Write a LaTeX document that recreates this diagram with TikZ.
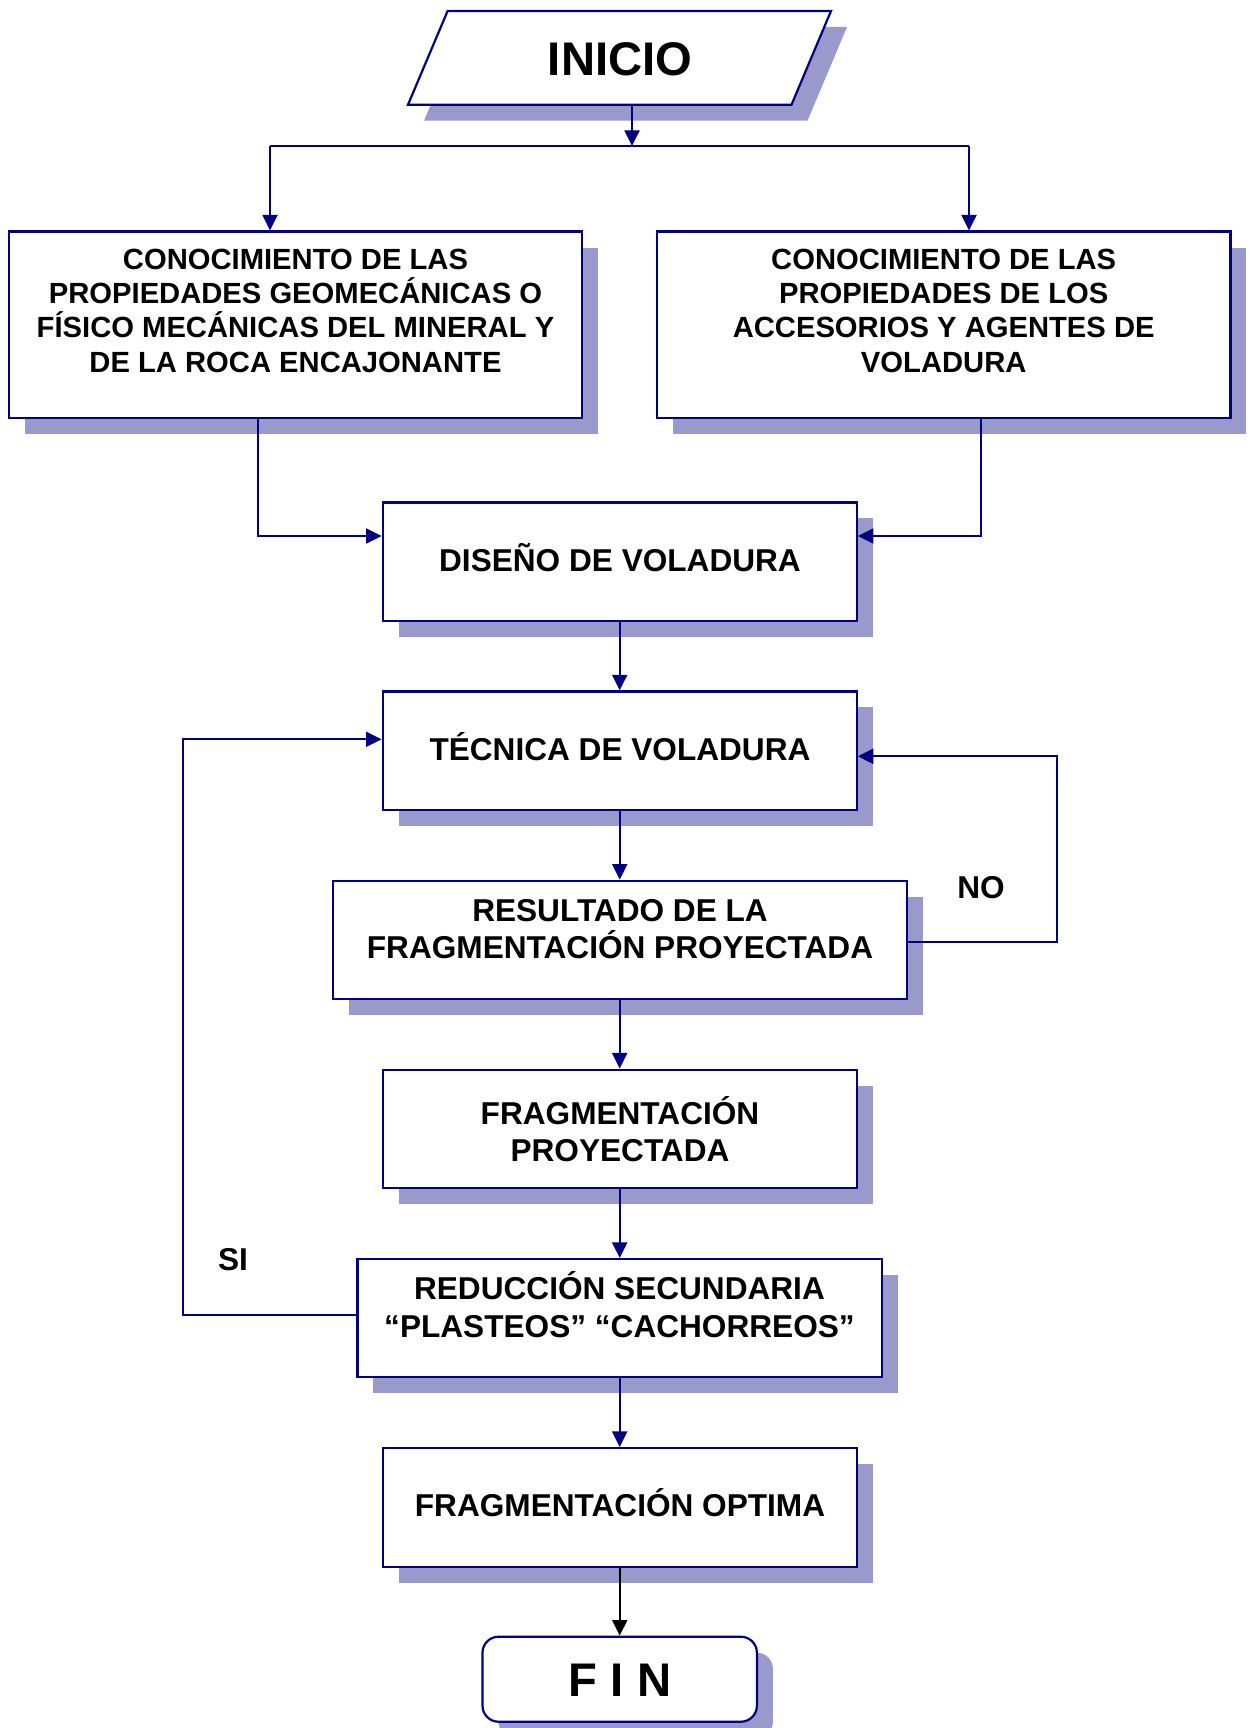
\documentclass[tikz,border=0pt]{standalone}
\usepackage{fontspec}
\setmainfont{Liberation Sans}
\usetikzlibrary{arrows.meta,shadows}
\definecolor{navy}{RGB}{0,0,128}
\definecolor{shd}{RGB}{153,153,204}
\begin{document}
\begin{tikzpicture}[x=0.5pt,y=-0.5pt,
  shad/.style={drop shadow={shadow xshift=8pt,shadow yshift=-8pt,fill=shd,opacity=1}},
  box/.style={draw=navy,line width=1.1pt,fill=white,shad,inner sep=0pt,rectangle},
  bigbox/.style={box,minimum width=286.75pt,minimum height=93pt},
  midbox/.style={box,minimum width=237pt,minimum height=59.25pt},
  txt/.style={font=\bfseries\fontsize{15.8}{18.6}\selectfont,align=center,anchor=base,inner sep=0pt},
  stxt/.style={txt,font=\bfseries\fontsize{14.6}{17.15}\selectfont},
  bigtxt/.style={font=\bfseries\fontsize{23.6}{28}\selectfont,anchor=base,inner sep=0pt},
  arr/.style={draw=navy,line width=1.1pt,-{Triangle[length=7.8pt,width=7.5pt]}},
  ln/.style={draw=navy,line width=1.1pt},
]
\useasboundingbox (0,0) rectangle (1249,1728);

% start parallelogram
\path[draw=navy,line width=1.1pt,fill=white,shad] (447.6,11) -- (831,11) -- (791.5,104.7) -- (408,104.7) -- cycle;
\node[bigtxt] (inicio) at (620,76) {INICIO};

% boxes
\node[bigbox] (b1) at (295.4,324.6) {};
\node[bigbox] (b2) at (943.7,324.6) {};
\node[midbox] (dis) at (619.7,561.7) {};
\node[midbox] (tec) at (619.7,750.7) {};
\node[box,minimum width=287pt,minimum height=59.15pt] (res) at (619.7,939.9) {};
\node[midbox] (fp) at (619.7,1128.9) {};
\node[box,minimum width=262.25pt,minimum height=59.15pt] (red) at (619.7,1318.2) {};
\node[midbox] (opt) at (619.7,1507.4) {};
\node[box,rounded corners=8pt,minimum width=137.2pt,minimum height=42.5pt] (fin) at (619.7,1679.2) {};

% texts (base = baseline of last line)
\node[stxt] (b1t) at (295.5,372.2) {CONOCIMIENTO DE LAS\\PROPIEDADES GEOMECÁNICAS O\\FÍSICO MECÁNICAS DEL MINERAL Y\\DE LA ROCA ENCAJONANTE};
\node[stxt] (b2t) at (943.7,372.2) {CONOCIMIENTO DE LAS\\PROPIEDADES DE LOS\\ACCESORIOS Y AGENTES DE\\VOLADURA};
\node[txt] (dist) at (620,571.7) {DISEÑO DE VOLADURA};
\node[txt] (tect) at (620,760) {TÉCNICA DE VOLADURA};
\node[txt] (rest) at (620,958.3) {RESULTADO DE LA\\FRAGMENTACIÓN PROYECTADA};
\node[txt] (fpt) at (620,1161.7) {FRAGMENTACIÓN\\PROYECTADA};
\node[txt] (redt) at (619.5,1337) {REDUCCIÓN SECUNDARIA\\“PLASTEOS” “CACHORREOS”};
\node[txt] (optt) at (620,1516.7) {FRAGMENTACIÓN OPTIMA};
\node[bigtxt] (fint) at (620,1696.7) {F I N};
\node[txt] (no) at (981,898.3) {NO};
\node[txt] (si) at (233,1270.7) {SI};

% connectors
\coordinate (iout) at (632,104.7);
\coordinate (split) at (632,146);
\coordinate (sl) at (270,146);
\coordinate (sr) at (969,146);
\draw[arr] (iout) -- (split);
\draw[ln] (sl) -- (sr);
\draw[arr] (sl) -- (sl |- b1.north);
\draw[arr] (sr) -- (sr |- b2.north);
\draw[arr] (258,0 |- b1.south) |- (dis.west |- 0,536);
\draw[arr] (981,0 |- b2.south) |- (dis.east |- 0,536);
\draw[arr] (dis.south) -- (tec.north);
\draw[arr] (tec.south) -- (res.north);
\draw[arr] (res.south) -- (fp.north);
\draw[arr] (fp.south) -- (red.north);
\draw[arr] (red.south) -- (opt.north);
\draw[arr,draw=black] (opt.south) -- (fin.north);
\draw[arr] (red.west |- 0,1315) -| (183,739.3) -- (tec.west |- 0,739.3);
\draw[arr] (res.east |- 0,942.3) -| (1056.7,756.3) -- (tec.east |- 0,756.3);
\end{tikzpicture}
\end{document}
